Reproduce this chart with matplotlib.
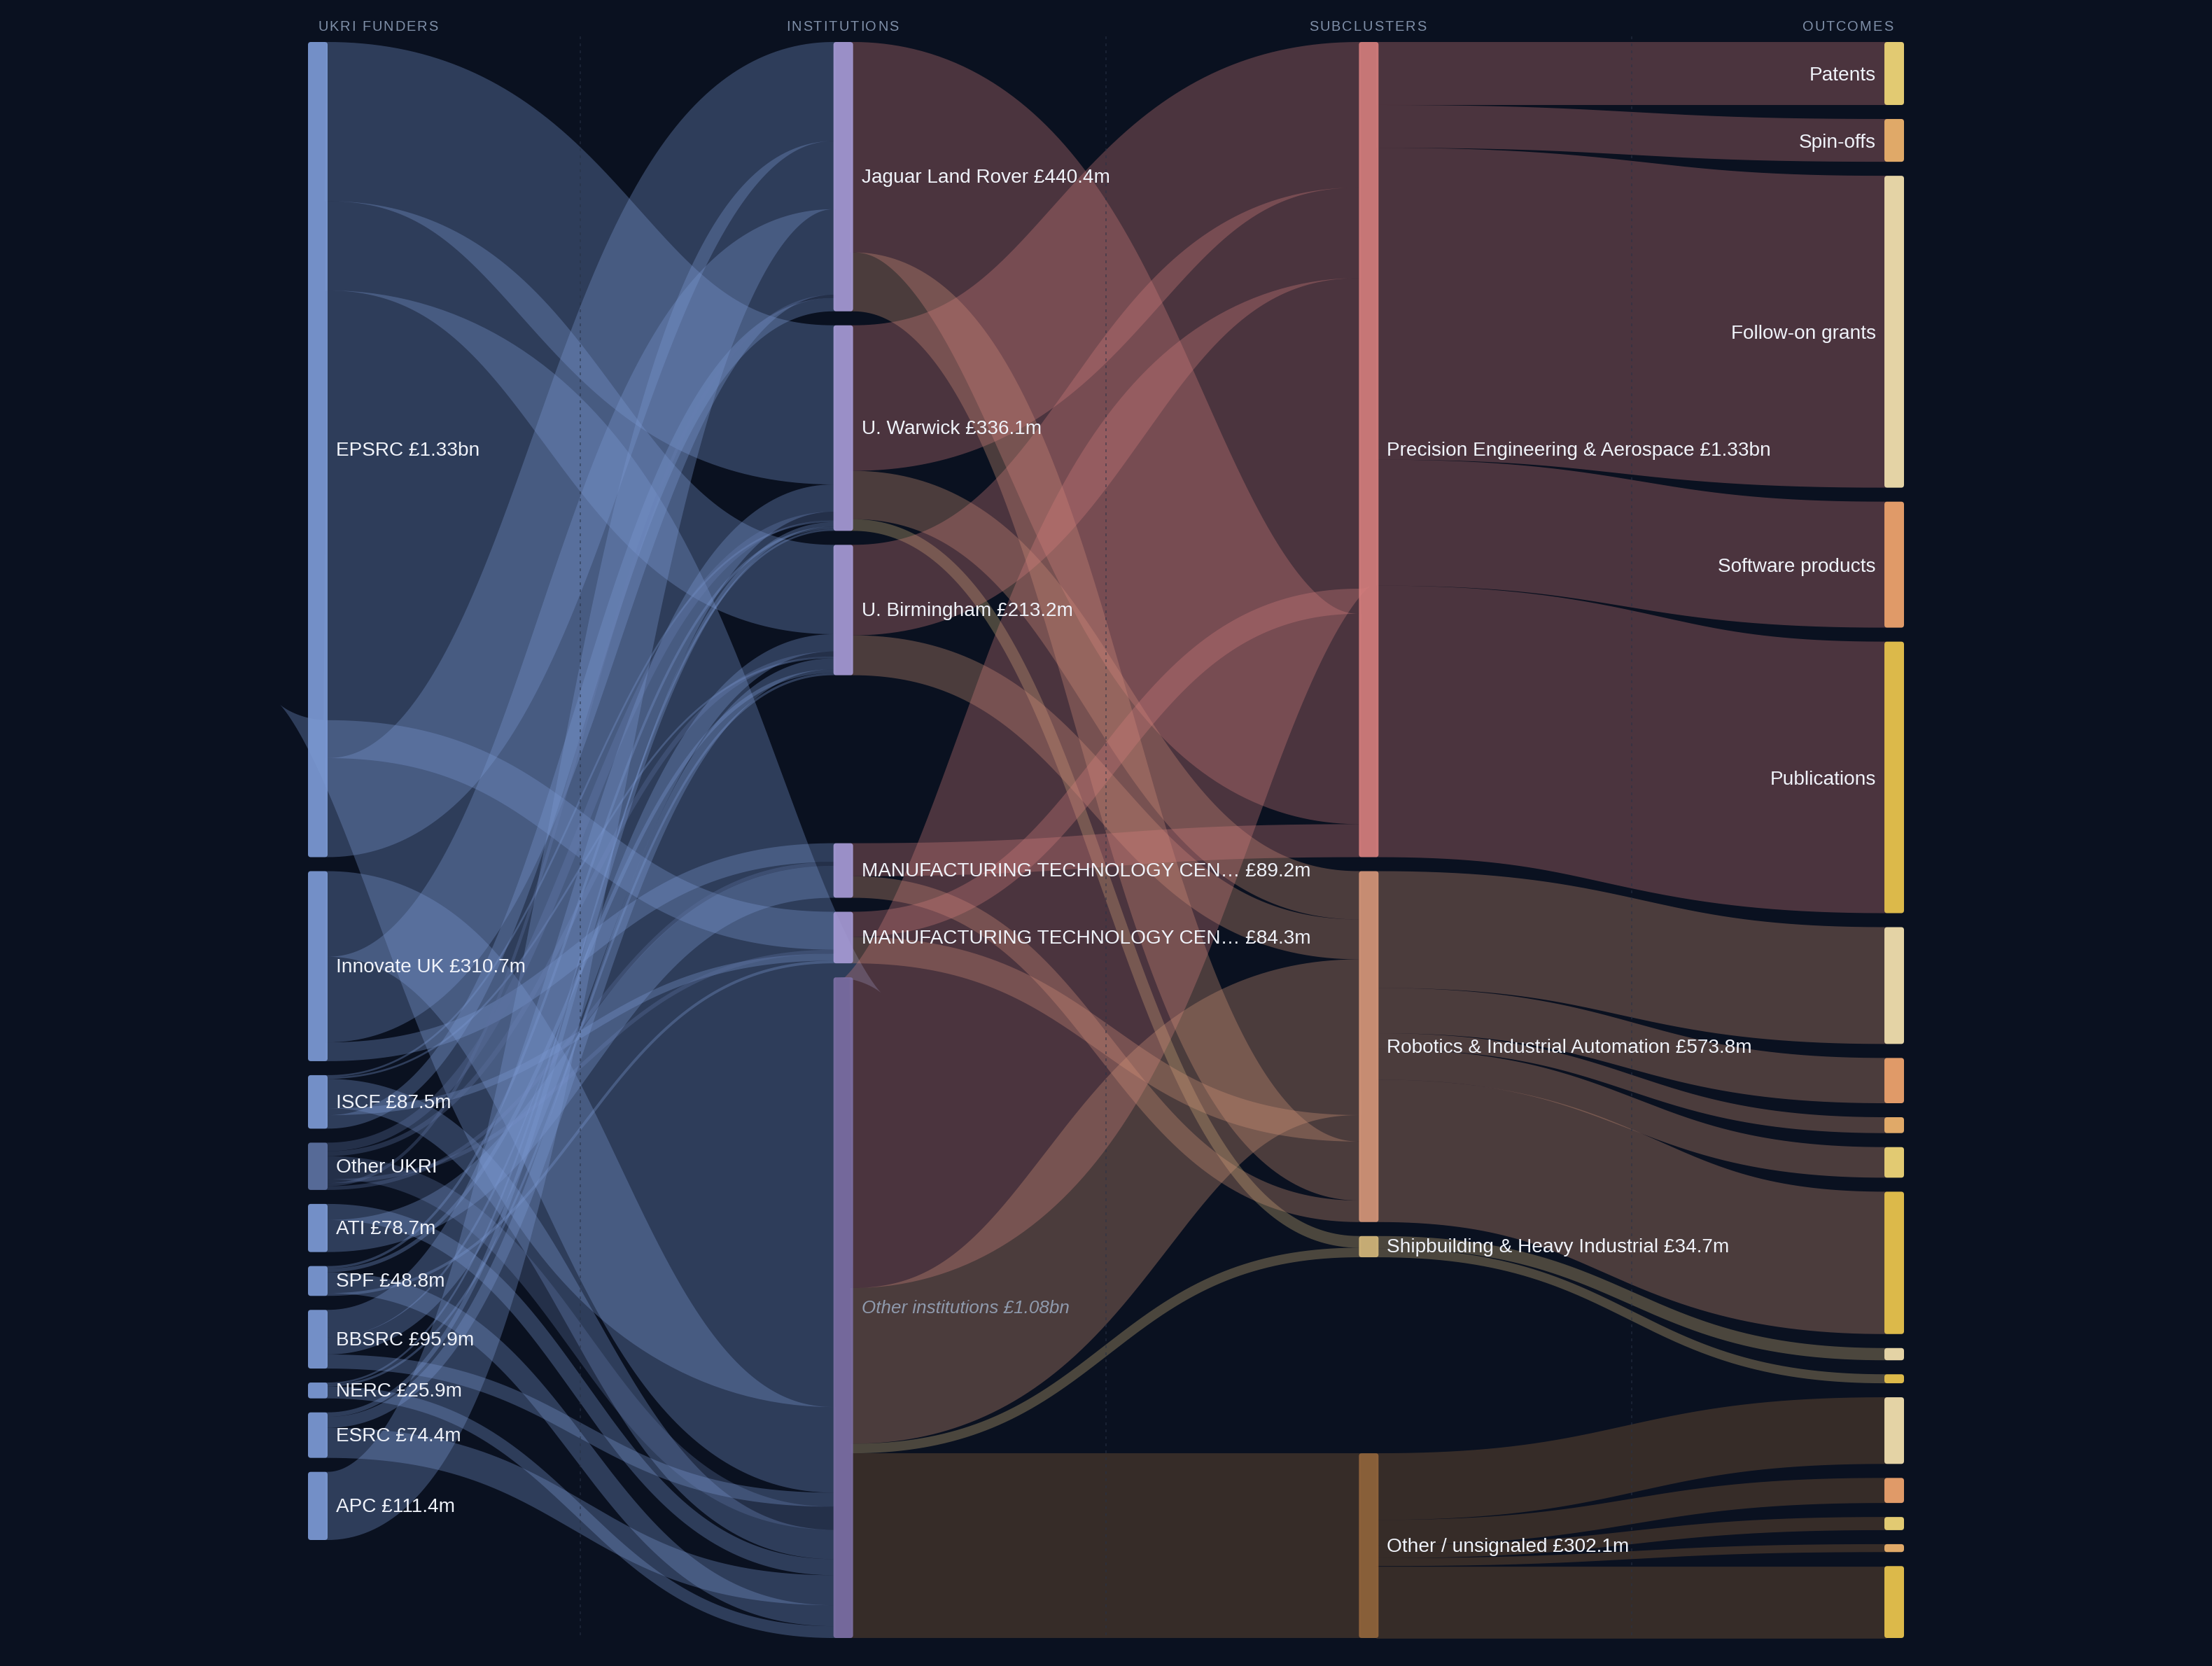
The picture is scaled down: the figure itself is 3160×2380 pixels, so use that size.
import numpy as np
import matplotlib
matplotlib.use('Agg')
import matplotlib.pyplot as plt
from matplotlib.patches import PathPatch, FancyBboxPatch
from matplotlib.path import Path
from matplotlib.text import Text

# UKRI money flowing through institutions and subclusters to outcomes (GBP m)
funders = ['EPSRC', 'Innovate UK', 'ISCF', 'Other UKRI', 'ATI', 'SPF', 'BBSRC', 'NERC', 'ESRC', 'APC']
funder_labels = ['EPSRC £1.33bn', 'Innovate UK £310.7m', 'ISCF £87.5m', 'Other UKRI', 'ATI £78.7m',
                 'SPF £48.8m', 'BBSRC £95.9m', 'NERC £25.9m', 'ESRC £74.4m', 'APC £111.4m']
institutions = ['JLR', 'Warwick', 'Birmingham', 'MTC1', 'MTC2', 'Other']
institution_labels = ['Jaguar Land Rover £440.4m', 'U. Warwick £336.1m', 'U. Birmingham £213.2m',
                      'MANUFACTURING TECHNOLOGY CEN… £89.2m', 'MANUFACTURING TECHNOLOGY CEN… £84.3m',
                      'Other institutions £1.08bn']
subclusters = ['Precision', 'Robotics', 'Shipbuilding', 'Unsignaled']
subcluster_labels = ['Precision Engineering & Aerospace £1.33bn', 'Robotics & Industrial Automation £573.8m',
                     'Shipbuilding & Heavy Industrial £34.7m', 'Other / unsignaled £302.1m']
headers = ['UKRI FUNDERS', 'INSTITUTIONS', 'SUBCLUSTERS', 'OUTCOMES']

# order the bands are stacked in on each node
inst_order = ['Warwick', 'Birmingham', 'Other', 'MTC2', 'JLR', 'MTC1']
funder_order = ['EPSRC', 'APC', 'Innovate UK', 'BBSRC', 'Other UKRI', 'ISCF', 'ATI', 'ESRC', 'SPF', 'NERC']

# columns follow inst_order
funder_links = {
    'EPSRC':       [260.2, 146.1, 702.7, 62.0, 162.0, 0],
    'Innovate UK': [0, 0, 140.0, 0, 140.0, 30.7],
    'ISCF':        [3.0, 3.1, 48.0, 11.4, 22.0, 0],
    'Other UKRI':  [14.0, 8.0, 37.7, 6.5, 5.0, 6.1],
    'ATI':         [0, 0, 26.3, 0, 0, 52.4],
    'SPF':         [4.0, 6.1, 34.3, 4.4, 0, 0],
    'BBSRC':       [44.6, 28.3, 23.0, 0, 0, 0],
    'NERC':        [3.0, 3.6, 19.3, 0, 0, 0],
    'ESRC':        [7.3, 18.0, 49.1, 0, 0, 0],
    'APC':         [0, 0, 0, 0, 111.4, 0],
}
# columns follow subclusters
inst_links = {
    'Warwick':    [238.0, 79.0, 19.1, 0],
    'Birmingham': [148.0, 65.2, 0, 0],
    'Other':      [508.0, 254.7, 15.6, 302.1],
    'MTC2':       [41.0, 43.3, 0, 0],
    'JLR':        [344.0, 96.4, 0, 0],
    'MTC1':       [54.0, 35.2, 0, 0],
}
outcome_names = [
    ['Patents', 'Spin-offs', 'Follow-on grants', 'Software products', 'Publications'],
    ['Follow-on grants', 'Software products', 'Spin-offs', 'Patents', 'Publications'],
    ['Follow-on grants', 'Publications'],
    ['Follow-on grants', 'Software products', 'Patents', 'Spin-offs', 'Publications'],
]
outcome_values = [
    [103.0, 70.0, 510.0, 206.0, 444.0],
    [191.0, 74.0, 26.0, 50.0, 232.8],
    [20.0, 14.7],
    [109.0, 41.0, 21.5, 13.0, 117.6],
]
# only the first block of outcomes carries text
outcome_labelled = [True, False, False, False]

bg = '#0a1120'
funder_color = '#7d9bd6'
funder_dim = '#5d72a2'
inst_color = '#a79bd6'
inst_dim = '#7e70a6'
sub_colors = ['#d77f7e', '#d7977a', '#d6b97c', '#94663c']
outcome_colors = {'Patents': '#e2ca72', 'Spin-offs': '#e0a968', 'Follow-on grants': '#e4d3a5',
                  'Software products': '#e09a68', 'Publications': '#dcb94a'}
label_color = '#f0f3fa'
muted_color = '#8f9aad'
header_color = '#7f8fa8'

W, H, DPI = 3160, 2380, 100
left, right, top, bottom = 440, 2720, 60, 2340
node_w, gap = 28, 20
link_alpha = 0.32
node_alpha = 0.92
col_x = np.linspace(left, right - node_w, 4)


class SpacedText(Text):
    # text with CSS-like letter spacing, one string drawn glyph by glyph
    spacing = 2.0

    def draw(self, renderer):
        s = self.get_text()
        fp = self.get_fontproperties()
        measure = lambda t: renderer.get_text_width_height_descent(t, fp, False)[0]
        base = measure('nn')
        adv = [measure('n' + c + 'n') - base + self.spacing for c in s]
        x, y = self.get_transform().transform(self.get_position())
        total = sum(adv)
        if self.get_ha() == 'center':
            x -= total / 2 + 0.5
        elif self.get_ha() == 'right':
            x -= total
        gc = renderer.new_gc()
        gc.set_foreground(self.get_color())
        gc.set_antialiased(True)
        y = renderer.height - y
        for c, a in zip(s, adv):
            if c != ' ':
                renderer.draw_text(gc, x, y, c, fp, 0, False, mtext=None)
            x += a
        gc.restore()
        self.stale = False


def stack(heights, spread_before=None):
    # tops of a column; spare height (if any) goes in front of one node
    heights = np.asarray(heights)
    extra = 0
    if spread_before is not None:
        extra = bottom - top - heights.sum() - gap * (len(heights) - 1)
    tops = []
    y = top
    for i, h in enumerate(heights):
        if i == spread_before:
            y += extra
        tops.append(y)
        y += h + gap
    return np.array(tops)


def draw_link(x0, y0, x1, y1, width, color):
    # cubic with horizontal end tangents, flattened finely; short straight
    # stubs run under the nodes so the thick stroke meets them without a slit
    xm = (x0 + x1) / 2
    t = np.linspace(0, 1, 800)[:, None]
    pts = ((1 - t) ** 3 * [x0, y0] + 3 * (1 - t) ** 2 * t * [xm, y0]
           + 3 * (1 - t) * t ** 2 * [xm, y1] + t ** 3 * [x1, y1])
    pts = np.vstack([[x0 - 3, y0], pts, [x1 + 3, y1]])
    ax.add_patch(PathPatch(Path(pts), fill=False, edgecolor=color, alpha=link_alpha,
                           lw=width * 72 / DPI, capstyle='butt', joinstyle='round', zorder=2))


def draw_node(x, y, h, color, alpha=node_alpha):
    r = min(4, h / 2)
    ax.add_patch(FancyBboxPatch((x + r, y + r), node_w - 2 * r, h - 2 * r,
                                boxstyle=f'round,pad={r},rounding_size={r}',
                                facecolor=color, edgecolor='none', alpha=alpha, zorder=3))


def draw_label(x, y, s, ha='left', color=label_color, style='normal', size=20.16):
    ax.text(x, y, s, ha=ha, va='center_baseline', color=color, fontsize=size, fontstyle=style,
            fontfamily='Liberation Sans', zorder=5)


fig = plt.figure(figsize=(W / DPI, H / DPI), dpi=DPI, facecolor=bg)
ax = fig.add_axes([0, 0, 1, 1])
ax.set_xlim(0, W)
ax.set_ylim(H, 0)
ax.axis('off')

# node values and the common pixel scale, set by the tallest column
funder_vals = np.array([sum(funder_links[f]) for f in funders])
inst_vals = np.array([sum(inst_links[i]) for i in institutions])
sub_vals = np.array([sum(v) for v in outcome_values])
flat_outcomes = [v for block in outcome_values for v in block]
scale = (bottom - top - gap * (len(flat_outcomes) - 1)) / sum(flat_outcomes)

funder_tops = stack(funder_vals * scale)
inst_tops = stack(inst_vals * scale, spread_before=3)
sub_tops = stack(sub_vals * scale, spread_before=3)
outcome_tops = stack(np.array(flat_outcomes) * scale)

# faint guides halfway between the columns
for i in range(3):
    ax.plot([(col_x[i] + col_x[i + 1] + node_w) / 2] * 2, [52, 2336], color='#283246', alpha=0.5,
            lw=1.44, dashes=(2, 3), zorder=2.5)

# funders -> institutions
inst_in = {n: t for n, t in zip(institutions, inst_tops)}
arrive = {}
for f in funder_order:
    for j, inst in enumerate(inst_order):
        v = funder_links[f][j]
        if v > 0:
            arrive[(f, inst)] = inst_in[inst]
            inst_in[inst] += v * scale
for i, f in enumerate(funders):
    y = funder_tops[i]
    color = funder_dim if f == 'Other UKRI' else funder_color
    for j, inst in enumerate(inst_order):
        v = funder_links[f][j]
        if v > 0:
            w = v * scale
            draw_link(col_x[0] + node_w, y + w / 2, col_x[1], arrive[(f, inst)] + w / 2, w, color)
            y += w

# institutions -> subclusters
sub_in = list(sub_tops)
arrive = {}
for inst in inst_order:
    for k in range(4):
        v = inst_links[inst][k]
        if v > 0:
            arrive[(inst, k)] = sub_in[k]
            sub_in[k] += v * scale
for inst, t in zip(institutions, inst_tops):
    y = t
    for k in range(4):
        v = inst_links[inst][k]
        if v > 0:
            w = v * scale
            draw_link(col_x[1] + node_w, y + w / 2, col_x[2], arrive[(inst, k)] + w / 2, w, sub_colors[k])
            y += w

# subclusters -> outcomes
n = 0
for k, block in enumerate(outcome_values):
    y = sub_tops[k]
    for v in block:
        w = v * scale
        draw_link(col_x[2] + node_w, y + w / 2, col_x[3], outcome_tops[n] + w / 2, w, sub_colors[k])
        y += w
        n += 1

# nodes and their labels
for i, f in enumerate(funders):
    h = funder_vals[i] * scale
    draw_node(col_x[0], funder_tops[i], h, funder_dim if f == 'Other UKRI' else funder_color)
    draw_label(col_x[0] + node_w + 12, funder_tops[i] + h / 2 - 1.5, funder_labels[i])
for i, inst in enumerate(institutions):
    h = inst_vals[i] * scale
    draw_node(col_x[1], inst_tops[i], h, inst_dim if inst == 'Other' else inst_color)
    if inst == 'Other':
        draw_label(col_x[1] + node_w + 12, inst_tops[i] + h / 2 - 1.5, institution_labels[i],
                   color=muted_color, style='italic', size=18.72)
    else:
        draw_label(col_x[1] + node_w + 12, inst_tops[i] + h / 2 - 1.5, institution_labels[i])
for k in range(4):
    h = sub_vals[k] * scale
    draw_node(col_x[2], sub_tops[k], h, sub_colors[k])
    draw_label(col_x[2] + node_w + 12, sub_tops[k] + h / 2 - 1.5, subcluster_labels[k])
n = 0
for k, names in enumerate(outcome_names):
    for name, v in zip(names, outcome_values[k]):
        h = v * scale
        draw_node(col_x[3], outcome_tops[n], h, outcome_colors[name], alpha=1)
        if outcome_labelled[k]:
            draw_label(col_x[3] - 12, outcome_tops[n] + h / 2, name, ha='right')
        n += 1

# column headers with letter spacing
anchors = ['left', 'center', 'center', 'right']
for i, s in enumerate(headers):
    t = SpacedText(col_x[i] + node_w / 2, 44, s, ha=anchors[i], va='baseline', color=header_color,
                   fontsize=14.4, fontfamily='Liberation Sans', zorder=5)
    ax.add_artist(t)

fig.savefig('out.png', dpi=DPI, facecolor=bg)
